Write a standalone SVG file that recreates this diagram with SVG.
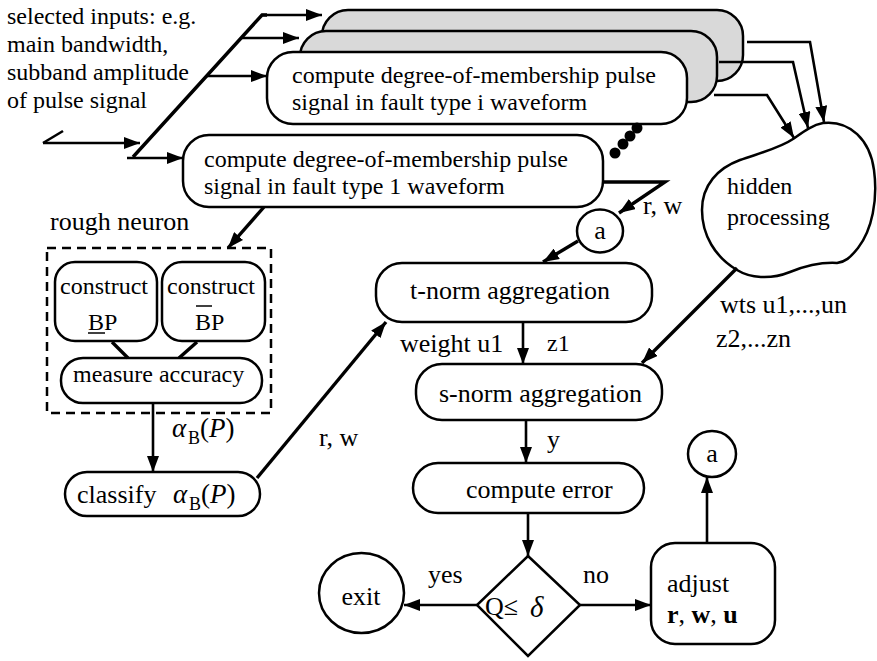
<svg xmlns="http://www.w3.org/2000/svg" width="877" height="661" viewBox="0 0 877 661">
  <style>
    text { font-family: "Liberation Serif", "Times New Roman", serif; fill: #000; }
    .f24 { font-size: 24px; }
    .f26 { font-size: 26px; }
    .box { fill: #fff; stroke: #000; stroke-width: 2.5; }
    .shade { fill: #d9d9d9; stroke: #000; stroke-width: 2.5; }
    .ln { fill: none; stroke: #000; stroke-width: 2.6; }
    .thick { fill: none; stroke: #000; stroke-width: 3.4; }
    .arr { marker-end: url(#ah); }
    .dash { fill: none; stroke: #000; stroke-width: 2.5; stroke-dasharray: 9 6; }
  </style>
  <defs>
    <marker id="ah" markerUnits="userSpaceOnUse" markerWidth="17" markerHeight="12" refX="16" refY="6" orient="auto">
      <path d="M0,0 L16,6 L0,12 Z" fill="#000"/>
    </marker>
  </defs>

  <rect width="877" height="661" fill="#fff"/>

  <!-- input description -->
  <g id="inputs">
    <text class="f24" x="7" y="24">selected inputs: e.g.</text>
    <text class="f24" x="7" y="52">main bandwidth,</text>
    <text class="f24" x="7" y="80">subband amplitude</text>
    <text class="f24" x="7" y="108">of pulse signal</text>
  </g>

  <!-- stacked fault-type modules -->
  <g id="module-n">
    <rect class="shade" x="322" y="10" width="421" height="71" rx="26"/>
  </g>
  <g id="module-k">
    <rect class="shade" x="300" y="31" width="417" height="71" rx="26"/>
  </g>
  <g id="module-i">
    <rect class="box" x="267" y="52" width="420" height="72" rx="26"/>
    <text class="f24" x="292" y="83">compute degree-of-membership pulse</text>
    <text class="f24" x="292" y="110">signal in fault type i waveform</text>
  </g>
  <g id="ellipsis">
    <circle cx="637" cy="128" r="5.5"/>
    <circle cx="630" cy="136" r="5.5"/>
    <circle cx="623" cy="144" r="5.5"/>
    <circle cx="615" cy="153" r="5.5"/>
  </g>
  <g id="module-1">
    <rect class="box" x="183" y="135" width="420" height="72" rx="26"/>
    <text class="f24" x="204" y="167">compute degree-of-membership pulse</text>
    <text class="f24" x="204" y="194">signal in fault type 1 waveform</text>
  </g>

  <!-- hidden processing cloud -->
  <g id="hidden">
    <path class="box" d="M823,123 C850,120 870,140 874,170 C878,200 872,230 858,248 C850,258 845,262 837,263 C820,262 805,266 790,272 C770,280 750,278 737,270 C715,257 702,235 702,210 C702,185 718,168 740,160 C760,153 780,148 793,139 C803,132 812,125 823,123 Z"/>
    <text class="f24" x="727" y="194">hidden</text>
    <text class="f24" x="727" y="225">processing</text>
  </g>

  <!-- rough neuron -->
  <g id="rough-neuron">
    <text class="f26" x="50" y="230">rough neuron</text>
    <rect class="dash" x="47" y="248" width="224" height="165"/>
  </g>
  <g id="lower-approx">
    <rect class="box" x="55" y="262" width="102" height="79" rx="20"/>
    <text class="f24" x="60" y="294">construct</text>
    <text class="f24" x="88" y="330">BP</text>
    <line x1="88" y1="333" x2="105" y2="333" stroke="#000" stroke-width="1.5"/>
  </g>
  <g id="upper-approx">
    <rect class="box" x="162" y="262" width="103" height="79" rx="20"/>
    <text class="f24" x="167" y="294">construct</text>
    <text class="f24" x="195" y="330">BP</text>
    <line x1="196" y1="306" x2="212" y2="306" stroke="#000" stroke-width="1.5"/>
  </g>
  <g id="measure">
    <rect class="box" x="61" y="358" width="201" height="45" rx="22"/>
    <text class="f24" x="73" y="382">measure accuracy</text>
  </g>
  <g id="classify">
    <rect class="box" x="65" y="472" width="195" height="44" rx="22"/>
    <text class="f26" x="77" y="503">classify</text>
    <text x="173" y="503" font-size="27" font-style="italic">α</text>
    <text x="189" y="510" font-size="18">B</text>
    <text x="201" y="503" font-size="27">(<tspan font-style="italic">P</tspan>)</text>
  </g>

  <!-- aggregation and training loop -->
  <g id="a-in">
    <ellipse class="box" cx="600" cy="231" rx="23" ry="21.5"/>
    <text class="f26" x="600" y="239" text-anchor="middle">a</text>
  </g>
  <g id="t-norm">
    <rect class="box" x="376" y="263" width="276" height="59" rx="26"/>
    <text class="f26" x="410" y="299">t-norm aggregation</text>
  </g>
  <g id="s-norm">
    <rect class="box" x="416" y="364" width="246" height="56" rx="26"/>
    <text class="f26" x="439" y="402">s-norm aggregation</text>
  </g>
  <g id="error">
    <rect class="box" x="413" y="463" width="231" height="50" rx="25"/>
    <text class="f26" x="466" y="498">compute error</text>
  </g>
  <g id="test">
    <path class="box" d="M528,556 L580,605 L528,656 L477,605 Z"/>
    <text class="f26" x="485" y="615">Q≤</text>
    <text x="530" y="617" font-size="29" font-style="italic">δ</text>
  </g>
  <g id="exit">
    <ellipse class="box" cx="361.5" cy="593" rx="42.5" ry="40"/>
    <text class="f26" x="361" y="605" text-anchor="middle">exit</text>
  </g>
  <g id="adjust">
    <rect class="box" x="651" y="543" width="124" height="101" rx="24"/>
    <text class="f26" x="667" y="592">adjust</text>
    <text class="f26" x="667" y="623" font-weight="bold">r<tspan font-weight="normal">, </tspan>w<tspan font-weight="normal">, </tspan>u</text>
  </g>
  <g id="a-out">
    <ellipse class="box" cx="712" cy="454" rx="24" ry="23"/>
    <text class="f26" x="712" y="462" text-anchor="middle">a</text>
  </g>

  <!-- connectors -->
  <g id="connectors">
    <!-- input bus -->
    <polyline class="thick" points="133,157 262,15 267,15"/>
    <line class="ln arr" x1="262" y1="15" x2="322" y2="15"/>
    <line class="ln arr" x1="241" y1="38" x2="299" y2="38"/>
    <line class="ln arr" x1="207" y1="76" x2="267" y2="76"/>
    <line class="ln" x1="43" y1="143" x2="63" y2="131"/>
    <line class="ln arr" x1="43" y1="143" x2="140" y2="143"/>
    <line class="ln arr" x1="127" y1="158" x2="183" y2="158"/>

    <!-- modules to hidden processing -->
    <polyline class="ln arr" points="747,42 810,42 824,122"/>
    <polyline class="ln arr" points="719,62 793,62 808,128"/>
    <polyline class="ln arr" points="714,95 767,95 794,138"/>

    <!-- module 1 outputs -->
    <polyline class="thick arr" points="603,182 665,182 619,213"/>
    <line class="thick arr" x1="264" y1="207" x2="228" y2="248"/>
    <text class="f26" x="643" y="214">r, w</text>

    <!-- a to t-norm -->
    <line class="thick arr" x1="578" y1="241" x2="543" y2="262"/>

    <!-- rough neuron internals -->
    <line class="thick" x1="112" y1="342" x2="128" y2="358"/>
    <line class="thick" x1="197" y1="342" x2="179" y2="358"/>
    <line class="ln arr" x1="153" y1="403" x2="153" y2="472"/>
    <text x="172" y="437" font-size="27" font-style="italic">α</text>
    <text x="188" y="444" font-size="18">B</text>
    <text x="200" y="437" font-size="27">(<tspan font-style="italic">P</tspan>)</text>

    <!-- classify to t-norm -->
    <line class="thick arr" x1="257" y1="478" x2="386" y2="322"/>
    <text class="f26" x="319" y="446">r, w</text>

    <!-- t-norm to s-norm -->
    <line class="ln arr" x1="523" y1="322" x2="523" y2="364"/>
    <text class="f26" x="400" y="352">weight u1</text>
    <text class="f24" x="547" y="351">z1</text>

    <!-- hidden processing to s-norm -->
    <line class="thick arr" x1="737" y1="268" x2="642" y2="363"/>
    <text class="f26" x="720" y="313">wts u1,...,un</text>
    <text class="f26" x="716" y="347">z2,...zn</text>

    <!-- s-norm to error -->
    <line class="ln arr" x1="526" y1="420" x2="526" y2="463"/>
    <text class="f26" x="547" y="448">y</text>

    <!-- error to test -->
    <line class="ln arr" x1="528" y1="513" x2="528" y2="556"/>

    <!-- test branches -->
    <line class="ln arr" x1="477" y1="605" x2="404" y2="605"/>
    <text class="f26" x="428" y="583">yes</text>
    <line class="ln arr" x1="580" y1="605" x2="651" y2="605"/>
    <text class="f26" x="583" y="583">no</text>

    <!-- adjust to a -->
    <line class="ln arr" x1="707" y1="543" x2="707" y2="477"/>
  </g>
</svg>
